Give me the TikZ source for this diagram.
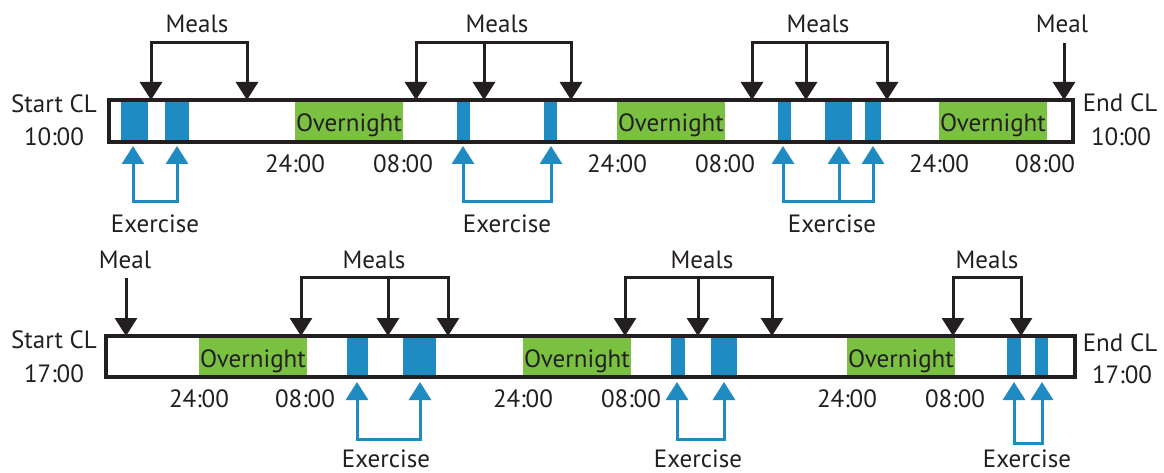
\documentclass[tikz,border=0pt]{standalone}
\usepackage{fontspec}
\setmainfont{PT Sans}
\usetikzlibrary{arrows.meta}
\definecolor{ink}{HTML}{231F20}
\definecolor{exblue}{HTML}{1E8BC3}
\definecolor{nightgreen}{HTML}{7AC142}
\begin{document}
\begin{tikzpicture}[x=1pt,y=-1pt,
  lbl/.style={font=\fontsize{25}{30}\selectfont, text=ink, inner sep=0pt, anchor=base},
  frame/.style={draw=ink, line width=4pt, line join=miter},
  exblock/.style={fill=exblue},
  night/.style={fill=nightgreen},
  tipk/.tip={Triangle[width=22pt,length=18pt]},
  mealarrow/.style={draw=ink, line width=3pt, line join=miter, -tipk},
  mealbracket/.style={draw=ink, line width=3pt, line join=miter, tipk-tipk},
  exarrow/.style={draw=exblue, line width=3pt, line join=miter, -tipk},
  exbracket/.style={draw=exblue, line width=3pt, line join=miter, tipk-tipk}]
\useasboundingbox (0,0) rectangle (1164,473);

% ================= TOP ROW =================
\foreach \a/\b/\n in {295/403/A,617/725/B,939/1047/C}{
  \fill[night] (\a,100.5) rectangle (\b,142);
  \node[lbl] (on\n) at ({(\a+\b)/2},132) {Overnight};
}
\foreach \a/\b in {121/148,165/189,457/470,544/557,778/791,825/852,865/881}{
  \fill[exblock] (\a,100.5) rectangle (\b,142);
}
\draw[frame] (109,100.5) rectangle (1073,142);

\node[lbl] (s1) at (54,113) {Start CL};
\node[lbl] (s1t) at (54,146) {10:00};
\node[lbl] (e1) at (1120,112) {End CL};
\node[lbl] (e1t) at (1121,146) {10:00};

\foreach \x/\t in {295/24:00,403/08:00,617/24:00,725/08:00,939/24:00,1045/08:00}{
  \node[lbl] at (\x,173) {\t};
}

\node[lbl] (mA) at (197,33) {Meals};
\node[lbl] (mB) at (497,33) {Meals};
\node[lbl] (mC) at (818,33) {Meals};
\node[lbl] (mD) at (1062,33) {Meal};

\coordinate (tA1) at (151,100); \coordinate (tA2) at (247,100);
\coordinate (hA1) at (151,43);  \coordinate (hA2) at (247,43);
\draw[mealbracket] (tA1) -- (hA1) -- (hA2) -- (tA2);

\coordinate (tB1) at (416,100); \coordinate (tB2) at (484,100); \coordinate (tB3) at (571,100);
\coordinate (hB1) at (416,43);  \coordinate (hB2) at (484,43);  \coordinate (hB3) at (571,43);
\draw[mealbracket] (tB1) -- (hB1) -- (hB3) -- (tB3);
\draw[mealarrow] (hB2) -- (tB2);

\coordinate (tC1) at (752,100); \coordinate (tC2) at (806,100); \coordinate (tC3) at (887,100);
\coordinate (hC1) at (752,43);  \coordinate (hC2) at (806,43);  \coordinate (hC3) at (887,43);
\draw[mealbracket] (tC1) -- (hC1) -- (hC3) -- (tC3);
\draw[mealarrow] (hC2) -- (tC2);

\coordinate (tD) at (1064,100); \coordinate (hD) at (1064,43);
\draw[mealarrow] (hD) -- (tD);

\node[lbl] (xA) at (155,232) {Exercise};
\node[lbl] (xB) at (507,232) {Exercise};
\node[lbl] (xC) at (832,232) {Exercise};

\coordinate (uA1) at (133,146); \coordinate (uA2) at (177,146);
\coordinate (lA1) at (133,202); \coordinate (lA2) at (177,202);
\draw[exbracket] (uA1) -- (lA1) -- (lA2) -- (uA2);

\coordinate (uB1) at (463,146); \coordinate (uB2) at (551,146);
\coordinate (lB1) at (463,202); \coordinate (lB2) at (551,202);
\draw[exbracket] (uB1) -- (lB1) -- (lB2) -- (uB2);

\coordinate (uC1) at (783,146); \coordinate (uC2) at (839,146); \coordinate (uC3) at (873,146);
\coordinate (lC1) at (783,202); \coordinate (lC2) at (839,202); \coordinate (lC3) at (873,202);
\draw[exbracket] (uC1) -- (lC1) -- (lC3) -- (uC3);
\draw[exarrow] (lC2) -- (uC2);

% ================= BOTTOM ROW =================
\foreach \a/\b/\n in {199/307/D,523/631/E,847/955/F}{
  \fill[night] (\a,336) rectangle (\b,377);
  \node[lbl] (on\n) at ({(\a+\b)/2},367) {Overnight};
}
\foreach \a/\b in {347/368,403/436,671/685,711/737,1007/1021,1035/1048}{
  \fill[exblock] (\a,336) rectangle (\b,377);
}
\draw[frame] (106,336) rectangle (1075,377);

\node[lbl] (s2) at (54,348) {Start CL};
\node[lbl] (s2t) at (54,382) {17:00};
\node[lbl] (e2) at (1120,351) {End CL};
\node[lbl] (e2t) at (1122,383) {17:00};

\foreach \x/\t in {199/24:00,305/08:00,523/24:00,631/08:00,847/24:00,955/08:00}{
  \node[lbl] at (\x,407) {\t};
}

\node[lbl] (mE) at (125,268) {Meal};
\node[lbl] (mF) at (374,268) {Meals};
\node[lbl] (mG) at (702,268) {Meals};
\node[lbl] (mH) at (987,268) {Meals};

\coordinate (tE) at (126,336); \coordinate (hE) at (126,278);
\draw[mealarrow] (hE) -- (tE);

\coordinate (tF1) at (301,336); \coordinate (tF2) at (388,336); \coordinate (tF3) at (448,336);
\coordinate (hF1) at (301,277); \coordinate (hF2) at (388,277); \coordinate (hF3) at (448,277);
\draw[mealbracket] (tF1) -- (hF1) -- (hF3) -- (tF3);
\draw[mealarrow] (hF2) -- (tF2);

\coordinate (tG1) at (625,336); \coordinate (tG2) at (698,336); \coordinate (tG3) at (772,336);
\coordinate (hG1) at (625,277); \coordinate (hG2) at (698,277); \coordinate (hG3) at (772,277);
\draw[mealbracket] (tG1) -- (hG1) -- (hG3) -- (tG3);
\draw[mealarrow] (hG2) -- (tG2);

\coordinate (tH1) at (953,336); \coordinate (tH2) at (1021,336);
\coordinate (hH1) at (953,277); \coordinate (hH2) at (1021,277);
\draw[mealbracket] (tH1) -- (hH1) -- (hH2) -- (tH2);

\node[lbl] (xD) at (386,467) {Exercise};
\node[lbl] (xE) at (698,467) {Exercise};
\node[lbl] (xF) at (1027,467) {Exercise};

\coordinate (uD1) at (357,382); \coordinate (uD2) at (420,382);
\coordinate (lD1) at (357,439); \coordinate (lD2) at (420,439);
\draw[exbracket] (uD1) -- (lD1) -- (lD2) -- (uD2);

\coordinate (uE1) at (677,382); \coordinate (uE2) at (724,382);
\coordinate (lE1) at (677,439); \coordinate (lE2) at (724,439);
\draw[exbracket] (uE1) -- (lE1) -- (lE2) -- (uE2);

\coordinate (uF1) at (1014,382); \coordinate (uF2) at (1042,382);
\coordinate (lF1) at (1014,443); \coordinate (lF2) at (1042,443);
\draw[exbracket] (uF1) -- (lF1) -- (lF2) -- (uF2);
\end{tikzpicture}
\end{document}
